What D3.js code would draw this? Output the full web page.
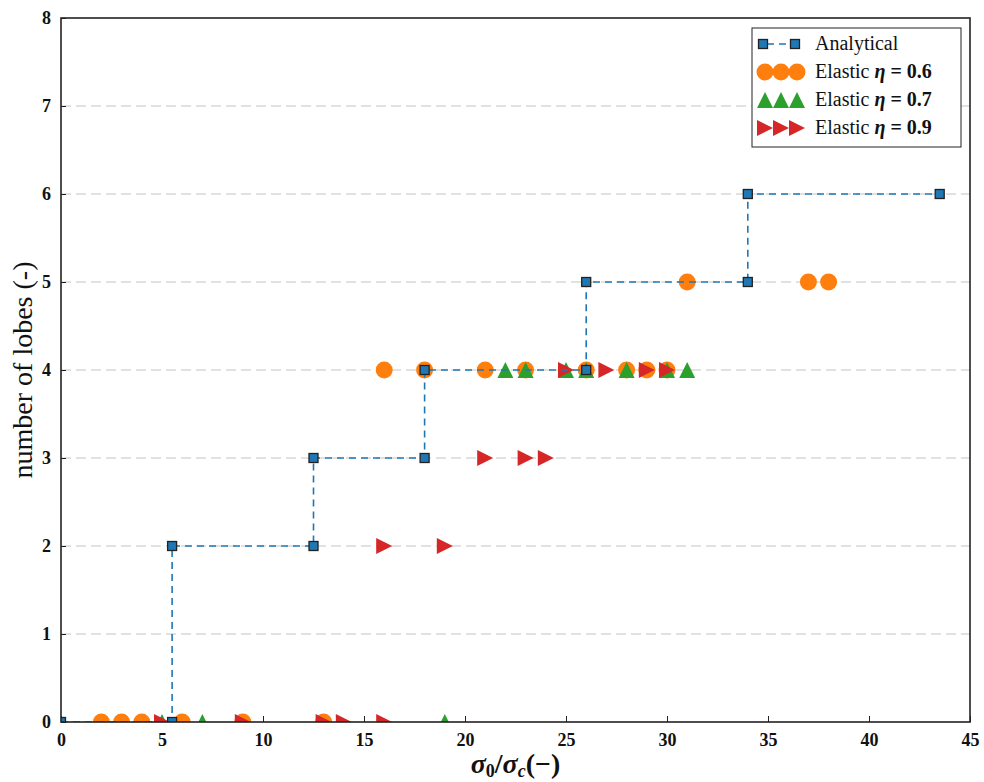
<!DOCTYPE html>
<html>
<head>
<meta charset="utf-8">
<script src="https://cdnjs.cloudflare.com/ajax/libs/d3/7.8.5/d3.min.js"></script>
<style>
  html, body { margin: 0; padding: 0; background: #fff; }
  svg { display: block; }
</style>
</head>
<body>
<svg id="chart" width="984" height="782"></svg>
<script>
// ---- data ----
const xTicks = [0, 5, 10, 15, 20, 25, 30, 35, 40, 45];
const yTicks = [0, 1, 2, 3, 4, 5, 6, 7, 8];

const analyticalX = [0, 5.5, 5.5, 12.5, 12.5, 18, 18, 26, 26, 34, 34, 43.5];
const analyticalY = [0, 0, 2, 2, 3, 3, 4, 4, 5, 5, 6, 6];

const eta06X = [2, 3, 4, 6, 9, 13, 16, 18, 21, 23, 26, 28, 29, 30, 31, 37, 38];
const eta06Y = [0, 0, 0, 0, 0, 0, 4, 4, 4, 4, 4, 4, 4, 4, 5, 5, 5];

const eta07X = [5, 7, 19, 22, 23, 25, 26, 28, 30, 31];
const eta07Y = [0, 0, 0, 4, 4, 4, 4, 4, 4, 4];

const eta09X = [5, 9, 13, 14, 16, 16, 19, 21, 23, 24, 25, 27, 29, 30];
const eta09Y = [0, 0, 0, 0, 0, 2, 2, 3, 3, 3, 4, 4, 4, 4];

const legendLabels = ["Analytical", "0.6", "0.7", "0.9"];

// ---- layout ----
const svg = d3.select("#chart");
const L = 61, R = 970, T = 18, B = 722;
const x = d3.scaleLinear().domain([0, 45]).range([L, R]);
const y = d3.scaleLinear().domain([0, 8]).range([B, T]);
const serif = "'Liberation Serif', 'DejaVu Serif', serif";

const C = { blue: "#1f77b4", orange: "#ff7f0e", green: "#2ca02c", red: "#d62728" };

svg.append("defs").append("clipPath").attr("id", "plotclip")
  .append("rect").attr("x", L).attr("y", T).attr("width", R - L).attr("height", B - T);

// grid
svg.append("g").selectAll("line").data(yTicks.slice(1, -1)).join("line")
  .attr("x1", L).attr("x2", R)
  .attr("y1", d => y(d)).attr("y2", d => y(d))
  .attr("stroke", "#c4c4c4").attr("stroke-width", 1)
  .attr("stroke-dasharray", "10,5");

// axes with inward ticks
const xAxis = d3.axisBottom(x).tickValues(xTicks).tickSizeInner(-6).tickSizeOuter(0).tickPadding(11);
const gx = svg.append("g").attr("transform", `translate(0,${B})`).call(xAxis);
gx.select(".domain").remove();
gx.selectAll(".tick line").attr("stroke", "#222").attr("stroke-width", 1);
gx.selectAll(".tick text").attr("font-family", serif).attr("font-weight", "bold")
  .attr("font-size", 18).attr("fill", "#111");

const yAxis = d3.axisLeft(y).tickValues(yTicks).tickSizeInner(-5).tickSizeOuter(0).tickPadding(10);
const gy = svg.append("g").attr("transform", `translate(${L},0)`).call(yAxis);
gy.select(".domain").remove();
gy.selectAll(".tick line").attr("stroke", "#222").attr("stroke-width", 1);
gy.selectAll(".tick text").attr("font-family", serif).attr("font-weight", "bold")
  .attr("font-size", 18).attr("fill", "#111");

// marker shapes
function triUp(s) { const h = s / 2; return `M0,${-h}L${h},${h}L${-h},${h}Z`; }
function triRight(s) { const h = s / 2; return `M${h},0L${-h},${-h}L${-h},${h}Z`; }

const plot = svg.append("g").attr("clip-path", "url(#plotclip)");

// eta 0.6 circles
plot.append("g").selectAll("circle").data(eta06X.map((v, i) => [v, eta06Y[i]])).join("circle")
  .attr("cx", d => x(d[0])).attr("cy", d => y(d[1])).attr("r", 8.5)
  .attr("fill", C.orange);

// eta 0.7 triangles up
plot.append("g").selectAll("path").data(eta07X.map((v, i) => [v, eta07Y[i]])).join("path")
  .attr("d", triUp(16))
  .attr("transform", d => `translate(${x(d[0])},${y(d[1])})`)
  .attr("fill", C.green);

// eta 0.9 triangles right
plot.append("g").selectAll("path").data(eta09X.map((v, i) => [v, eta09Y[i]])).join("path")
  .attr("d", triRight(16))
  .attr("transform", d => `translate(${x(d[0])},${y(d[1])})`)
  .attr("fill", C.red);

// analytical
const aPts = analyticalX.map((v, i) => [v, analyticalY[i]]);
plot.append("path").datum(aPts)
  .attr("d", d3.line().x(d => x(d[0])).y(d => y(d[1])))
  .attr("fill", "none").attr("stroke", C.blue).attr("stroke-width", 1.6)
  .attr("stroke-dasharray", "7,5");
plot.append("g").selectAll("rect").data(aPts).join("rect")
  .attr("x", d => x(d[0]) - 4.5).attr("y", d => y(d[1]) - 4.5)
  .attr("width", 9).attr("height", 9)
  .attr("fill", C.blue).attr("stroke", "#222").attr("stroke-width", 1.3);

// frame
svg.append("rect").attr("x", L).attr("y", T).attr("width", R - L).attr("height", B - T)
  .attr("fill", "none").attr("stroke", "#222").attr("stroke-width", 1.6);

// axis labels
svg.append("text")
  .attr("transform", `translate(32,${(T + B) / 2}) rotate(-90)`)
  .attr("text-anchor", "middle")
  .attr("font-family", serif).attr("font-size", 28).attr("fill", "#111")
  .text("number of lobes (-)");

const xl = svg.append("text").attr("x", (L + R) / 2).attr("y", 773)
  .attr("text-anchor", "middle").attr("font-family", serif)
  .attr("font-size", 28).attr("font-weight", "bold").attr("fill", "#111");
xl.append("tspan").attr("font-style", "italic").text("σ");
xl.append("tspan").attr("font-size", 18).attr("dy", 4).text("0");
xl.append("tspan").attr("dy", -4).text("/");
xl.append("tspan").attr("font-style", "italic").text("σ");
xl.append("tspan").attr("font-size", 18).attr("font-style", "italic").attr("dy", 4).text("c");
xl.append("tspan").attr("dy", -4).text("(−)");

// legend
const lg = svg.append("g");
lg.append("rect").attr("x", 752).attr("y", 28).attr("width", 209).attr("height", 119)
  .attr("fill", "#fff").attr("stroke", "#222").attr("stroke-width", 1);
const rowY = [44, 72, 100, 128];
const mk = [763, 779, 795];
// analytical
lg.append("line").attr("x1", 763).attr("x2", 795).attr("y1", rowY[0]).attr("y2", rowY[0])
  .attr("stroke", C.blue).attr("stroke-width", 1.6).attr("stroke-dasharray", "7,5")
  .attr("stroke-dashoffset", -4);
[763, 795].forEach(cx => lg.append("rect").attr("x", cx - 4.5).attr("y", rowY[0] - 4.5)
  .attr("width", 9).attr("height", 9).attr("fill", C.blue).attr("stroke", "#222").attr("stroke-width", 1.3));
mk.forEach(cx => lg.append("circle").attr("cx", cx + 2).attr("cy", rowY[1]).attr("r", 8.5).attr("fill", C.orange));
mk.forEach(cx => lg.append("path").attr("d", triUp(16)).attr("transform", `translate(${cx + 2},${rowY[2]})`).attr("fill", C.green));
mk.forEach(cx => lg.append("path").attr("d", triRight(16)).attr("transform", `translate(${cx + 2},${rowY[3]})`).attr("fill", C.red));

legendLabels.forEach((lab, i) => {
  const t = lg.append("text").attr("x", 815).attr("y", rowY[i] + 6)
    .attr("font-family", serif).attr("font-size", 20).attr("fill", "#111");
  if (i === 0) { t.text(lab); return; }
  t.append("tspan").text("Elastic ");
  t.append("tspan").attr("font-style", "italic").attr("font-weight", "bold").text("η");
  t.append("tspan").attr("font-weight", "bold").text(" = " + lab);
});
</script>
</body>
</html>
